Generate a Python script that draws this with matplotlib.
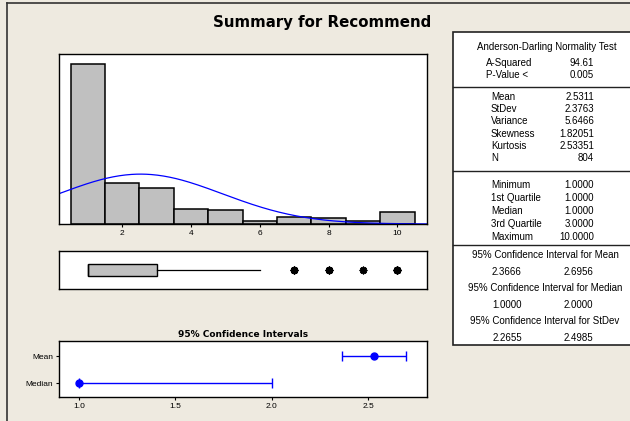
import numpy as np
import matplotlib
matplotlib.use("Agg")
import matplotlib.pyplot as plt
from matplotlib.patches import Rectangle
from matplotlib.lines import Line2D

plt.rcParams['font.family'] = 'Liberation Sans'
plt.rcParams['font.size'] = 7

# ---- data ----
values = [1, 2, 3, 4, 5, 6, 7, 8, 9, 10]
counts = [432, 112, 97, 41, 38, 8, 19, 17, 8, 32]

ad_labels = ["A-Squared", "P-Value <"]
ad_values = ["94.61", "0.005"]

moment_labels = ["Mean", "StDev", "Variance", "Skewness", "Kurtosis", "N"]
moment_values = ["2.5311", "2.3763", "5.6466", "1.82051", "2.53351", "804"]

quart_labels = ["Minimum", "1st Quartile", "Median", "3rd Quartile", "Maximum"]
quart_values = ["1.0000", "1.0000", "1.0000", "3.0000", "10.0000"]

ci_titles = ["95% Confidence Interval for Mean",
             "95% Confidence Interval for Median",
             "95% Confidence Interval for StDev"]
ci_lower = [2.3666, 1.0000, 2.2655]
ci_upper = [2.6956, 2.0000, 2.4985]

mean_val = 2.5311
stdev_val = 2.3763
median_val = 1.0
n_obs = 804

W, H = 630, 421
bg = '#EEEAE0'
blue = '#0000FF'

fig = plt.figure(figsize=(W / 100, H / 100), dpi=100, facecolor=bg)


def box(x0, y0, x1, y1):
    # pixel box (top-left origin) -> figure axes rect
    return [x0 / W, 1 - y1 / H, (x1 - x0) / W, (y1 - y0) / H]


def fx(x):
    return x / W


def fy(y):
    return 1 - y / H


# outer frame lines
fig.add_artist(Line2D([fx(7), fx(7)], [fy(3), 0], color='#333333', lw=1.2))
fig.add_artist(Line2D([fx(7), 1], [fy(3), fy(3)], color='#333333', lw=1.2))

fig.text(fx(322), fy(22), "Summary for Recommend", ha='center', va='center',
         fontsize=10.8, fontweight='bold', family='DejaVu Sans')

xlim = (0.16, 10.86)

# ---- histogram with fitted normal ----
ax_h = fig.add_axes(box(59, 54, 427, 224))
ax_h.bar(values, counts, width=1.0, color='#C0C0C0', edgecolor='black', linewidth=1.1)
xs = np.linspace(xlim[0], xlim[1], 300)
dens = n_obs / (stdev_val * np.sqrt(2 * np.pi)) * np.exp(-0.5 * ((xs - mean_val) / stdev_val) ** 2)
ax_h.plot(xs, dens, color=blue, lw=0.9)
ax_h.set_xlim(xlim)
ax_h.set_ylim(0, 460)
ax_h.set_yticks([])
ax_h.set_xticks([2, 4, 6, 8, 10])
ax_h.tick_params(axis='x', length=2.5, width=0.8, labelsize=6, pad=1.5)
for s in ax_h.spines.values():
    s.set_linewidth(1.0)

# ---- boxplot ----
ax_b = fig.add_axes(box(59, 251, 427, 289))
raw = np.repeat(values, counts)
ax_b.boxplot(raw, vert=False, widths=0.34, patch_artist=True, whis=1.5,
             boxprops=dict(facecolor='#C0C0C0', edgecolor='black', linewidth=1.0),
             medianprops=dict(color='black', linewidth=1.0),
             whiskerprops=dict(color='black', linewidth=0.9),
             capprops=dict(linewidth=0),
             flierprops=dict(marker=(8, 1, 0), markersize=5, markerfacecolor='black',
                             markeredgecolor='black', markeredgewidth=0.8,
                             linestyle='none'))
ax_b.set_xlim(xlim)
ax_b.set_ylim(0.5, 1.5)
ax_b.set_xticks([])
ax_b.set_yticks([])
for s in ax_b.spines.values():
    s.set_linewidth(1.0)

# ---- confidence intervals ----
ax_c = fig.add_axes(box(59, 341, 427, 397))
ci_names = ["Median", "Mean"]
ci_points = [median_val, mean_val]
ci_lo = [ci_lower[1], ci_lower[0]]
ci_hi = [ci_upper[1], ci_upper[0]]
for i, (p, lo, hi) in enumerate(zip(ci_points, ci_lo, ci_hi)):
    ax_c.errorbar(p, i, xerr=[[p - lo], [hi - p]], fmt='o', color=blue, ecolor=blue,
                  markersize=5, elinewidth=1.0, capsize=3.5, capthick=1.0)
ax_c.set_xlim(0.896, 2.806)
ax_c.set_ylim(-0.5, 1.55)
ax_c.set_yticks([0, 1])
ax_c.set_yticklabels(ci_names)
ax_c.set_xticks([1.0, 1.5, 2.0, 2.5])
ax_c.set_xticklabels(["1.0", "1.5", "2.0", "2.5"])
ax_c.tick_params(length=2.5, width=0.8, labelsize=6, pad=1.5)
ax_c.set_title("95% Confidence Intervals", fontsize=6.5, fontweight='bold',
               family='DejaVu Sans', pad=3)
for s in ax_c.spines.values():
    s.set_linewidth(1.0)

# ---- statistics panel ----
fig.add_artist(Rectangle((fx(453), fy(345)), 1.0, fy(32) - fy(345),
                         transform=fig.transFigure, facecolor='white',
                         edgecolor='#222222', lw=1.2))
for yy in [87, 171, 245]:
    fig.add_artist(Line2D([fx(453), 1], [fy(yy), fy(yy)], color='#222222', lw=1.0))

lab_x, val_x = 491, 594
fig.text(fx(547), fy(47), "Anderson-Darling Normality Test", ha='center', va='center')
for j, (lab, val) in enumerate(zip(ad_labels, ad_values)):
    y = 63 + 12 * j
    fig.text(fx(486), fy(y), lab, ha='left', va='center')
    fig.text(fx(val_x), fy(y), val, ha='right', va='center')

for j, (lab, val) in enumerate(zip(moment_labels, moment_values)):
    y = 97 + 12.2 * j
    fig.text(fx(lab_x), fy(y), lab, ha='left', va='center')
    fig.text(fx(val_x), fy(y), val, ha='right', va='center')

for j, (lab, val) in enumerate(zip(quart_labels, quart_values)):
    y = 185 + 13 * j
    fig.text(fx(lab_x), fy(y), lab, ha='left', va='center')
    fig.text(fx(val_x), fy(y), val, ha='right', va='center')

for j, (title, lo, hi) in enumerate(zip(ci_titles, ci_lower, ci_upper)):
    y = 255 + 33 * j
    fig.text(fx(545), fy(y), title, ha='center', va='center')
    fig.text(fx(507), fy(y + 17), f"{lo:.4f}", ha='center', va='center')
    fig.text(fx(578), fy(y + 17), f"{hi:.4f}", ha='center', va='center')

fig.savefig("out.png", dpi=100, facecolor=bg)
